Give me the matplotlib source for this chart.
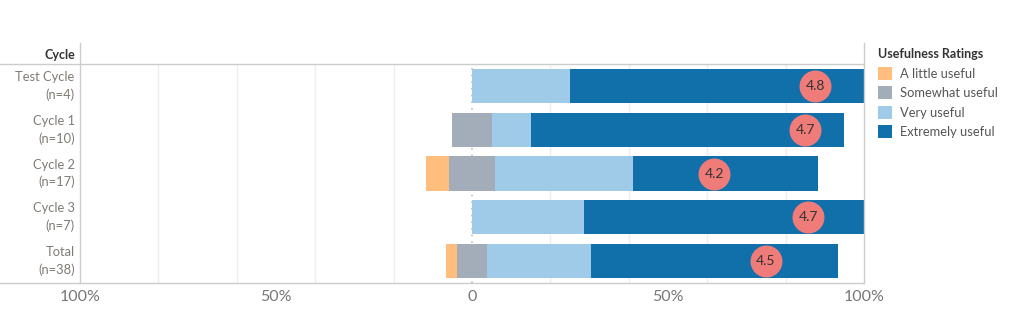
import numpy as np
import matplotlib
matplotlib.use('Agg')
import matplotlib.pyplot as plt
from matplotlib.lines import Line2D
from matplotlib.patches import Patch

plt.rcParams['font.family'] = ['Lato', 'DejaVu Sans']

# counts of responses per cycle
cycles = ['Test Cycle', 'Cycle 1', 'Cycle 2', 'Cycle 3', 'Total']
n_resp = [4, 10, 17, 7, 38]
ratings = ['A little useful', 'Somewhat useful', 'Very useful', 'Extremely useful']
rating_scores = [2, 3, 4, 5]
little = [0, 0, 1, 0, 1]
somewhat = [0, 1, 2, 0, 3]
very = [1, 1, 6, 2, 10]
extremely = [3, 8, 8, 5, 24]
colors = ['#ffbe7d', '#a3acb9', '#a0cbe8', '#1170aa']

W, H = 1016, 334
fig = plt.figure(figsize=(W / 100, H / 100), dpi=100)
left, right, top, bottom = 80, 864, 64, 283
ax = fig.add_axes([left / W, 1 - bottom / H, (right - left) / W, (bottom - top) / H])

n = np.array(n_resp, dtype=float)
p_little = np.array(little) / n * 100
p_some = np.array(somewhat) / n * 100
p_very = np.array(very) / n * 100
p_ext = np.array(extremely) / n * 100
y = np.arange(len(cycles))
bh = 0.78

# somewhat useful sits across zero, a little useful goes further left
ax.barh(y, p_little, left=-p_some / 2 - p_little, height=bh, color=colors[0], zorder=2)
ax.barh(y, p_some, left=-p_some / 2, height=bh, color=colors[1], zorder=2)
ax.barh(y, p_very, left=p_some / 2, height=bh, color=colors[2], zorder=2)
ax.barh(y, p_ext, left=p_some / 2 + p_very, height=bh, color=colors[3], zorder=2)

# average rating, plotted as (score - 3) * 50%
counts = np.array([little, somewhat, very, extremely], dtype=float)
avg = (counts * np.array(rating_scores)[:, None]).sum(axis=0) / n
ax.plot((avg - 3) * 50, y, 'o', ms=23, color='#f07c79', mec='none', zorder=4)
for yi, a in zip(y, avg):
    ax.text((a - 3) * 50, yi, '%.1f' % (a + 1e-9), ha='center', va='center',
            fontsize=10, color='#333333', zorder=5)

ax.set_xlim(-100, 100)
ax.set_ylim(len(cycles) - 0.5, -0.5)
for gx in [-80, -60, -40, -20, 20, 40, 60, 80]:
    ax.axvline(gx, color='#eeeeee', lw=1, zorder=0)
ax.axvline(0, color='#bbbbbb', lw=1.2, ls=(0, (1, 3)), zorder=1)
ax.set_xticks([-100, -50, 0, 50, 100])
ax.set_xticklabels(['100%', '50%', '0', '50%', '100%'])
ax.tick_params(axis='x', length=0, labelsize=11.5, labelcolor='#777777', pad=5)
ax.set_yticks([])
for s in ax.spines.values():
    s.set_visible(False)

# row labels
for yi, c, k in zip(y, cycles, n_resp):
    ax.text(-0.007, yi, '%s\n(n=%d)' % (c, k), transform=ax.get_yaxis_transform(),
            ha='right', va='center', fontsize=9.3, color='#7f7a74', linespacing=1.5)
fig.text(75 / W, 1 - 55 / H, 'Cycle', ha='right', va='center', fontsize=9,
         color='#333333', fontweight='bold')

# table frame lines
lc = '#cccccc'
fig.add_artist(Line2D([0, right / W], [1 - top / H] * 2, color=lc, lw=1))
fig.add_artist(Line2D([0, right / W], [1 - bottom / H] * 2, color=lc, lw=1))
fig.add_artist(Line2D([left / W] * 2, [1 - 43 / H, 1 - bottom / H], color=lc, lw=1))
fig.add_artist(Line2D([right / W] * 2, [1 - 43 / H, 1 - bottom / H], color=lc, lw=1))

# legend
handles = [Patch(facecolor=c, edgecolor='none') for c in colors]
leg = fig.legend(handles, ratings, title='Usefulness Ratings', loc='upper left',
                 bbox_to_anchor=(873 / W, 1 - 43 / H), frameon=False, fontsize=9.3,
                 handlelength=1.1, handleheight=1.15, handletextpad=0.6,
                 labelspacing=0.52, borderaxespad=0, alignment='left')
leg.get_title().set_fontsize(9)
leg.get_title().set_fontweight('bold')
leg.get_title().set_color('#333333')
for t in leg.get_texts():
    t.set_color('#555555')

fig.savefig('out.png', dpi=100)
